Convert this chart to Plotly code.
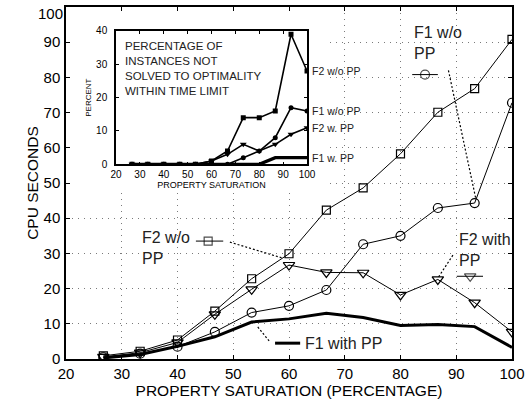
import plotly.graph_objects as go

# ---- data -------------------------------------------------------------
saturation = [26.7, 33.3, 40.0, 46.7, 53.3, 60.0, 66.7, 73.3, 80.0, 86.7, 93.3, 100.0]

# mean CPU seconds per formulation
cpu_f2_wo_pp = [0.9, 2.2, 5.4, 13.6, 22.8, 29.9, 42.3, 48.6, 58.3, 70.1, 76.8, 90.8]
cpu_f1_wo_pp = [0.5, 1.5, 3.5, 7.7, 13.2, 15.1, 19.6, 32.6, 35.0, 42.9, 44.3, 72.8]
cpu_f2_w_pp = [0.6, 1.8, 4.7, 12.7, 19.8, 26.7, 24.6, 24.5, 18.2, 22.6, 16.0, 7.7]
cpu_f1_w_pp = [0.3, 1.3, 3.6, 6.3, 10.5, 11.4, 13.0, 11.8, 9.5, 9.8, 9.2, 3.3]

# percentage of instances not solved to optimality within the time limit
pct_f2_wo_pp = [0, 0, 0, 0, 0, 1, 4, 14, 14, 16, 39, 28]
pct_f1_wo_pp = [0, 0, 0, 0, 0, 0, 0, 2, 4, 8, 17, 16]
pct_f2_w_pp = [0, 0, 0, 0, 0, 1, 3, 6, 4, 6, 9, 11]
pct_f1_w_pp = [0, 0, 0, 0, 0, 0, 0, 0, 0, 2, 2, 2]

main_ticks = list(range(20, 101, 10))
cpu_ticks = list(range(0, 101, 10))
inset_x_ticks = list(range(20, 101, 10))
inset_y_ticks = list(range(0, 41, 10))

# callout labels: text anchor, key sample (x0, xm, x1, y) and leader line
callouts = [
    dict(text="F1 w/o<br>PP", tx=82.1, ty=89.8, key=(82.1, 84.4, 86.7, 80.8),
         symbol="circle-open", size=9, lead=(88.6, 82.0, 93.5, 45.6)),
    dict(text="F2 w/o<br>PP", tx=33.3, ty=31.6, key=(43.3, 45.5, 48.2, 33.5),
         symbol="square-open", size=8, lead=(49.4, 33.2, 59.0, 28.6)),
    dict(text="F2 with<br>PP", tx=90.1, ty=30.9, key=(90.1, 92.5, 94.8, 23.5),
         symbol="triangle-down-open", size=10, lead=(89.4, 29.5, 86.7, 23.0)),
]
f1_pp_label = dict(text="F1 with PP", tx=62.5, ty=4.5, key=(57.5, 62.0, 4.5),
                   lead=(54.4, 9.1, 56.6, 4.8))

# region of the main axes covered by the inset panel (x0, x1, y0, y1)
inset_backing = (20, 66.6, 48.0, 100)

FONT = "Liberation Sans, Arial, Helvetica, sans-serif"
INK = "black"

fig = go.Figure()

# ---- main chart -------------------------------------------------------
fig.add_trace(go.Scatter(x=saturation, y=cpu_f2_wo_pp, mode="lines+markers",
                         line=dict(color=INK, width=1),
                         marker=dict(symbol="square-open", size=8, color=INK,
                                     line=dict(width=1.2))))
fig.add_trace(go.Scatter(x=saturation, y=cpu_f1_wo_pp, mode="lines+markers",
                         line=dict(color=INK, width=1),
                         marker=dict(symbol="circle-open", size=9, color=INK,
                                     line=dict(width=1.2))))
fig.add_trace(go.Scatter(x=saturation, y=cpu_f2_w_pp, mode="lines+markers",
                         line=dict(color=INK, width=1),
                         marker=dict(symbol="triangle-down-open", size=10, color=INK,
                                     line=dict(width=1.2))))
fig.add_trace(go.Scatter(x=saturation, y=cpu_f1_w_pp, mode="lines",
                         line=dict(color=INK, width=3)))

# key samples next to the callout texts
for c in callouts:
    x0, xm, x1, y = c["key"]
    fig.add_trace(go.Scatter(x=[x0, xm, x1], y=[y, y, y], mode="lines+markers",
                             line=dict(color=INK, width=1),
                             marker=dict(symbol=c["symbol"], size=[0, c["size"], 0],
                                         color=INK, line=dict(width=1.2))))
    fig.add_annotation(x=c["tx"], y=c["ty"], xref="x", yref="y", text=c["text"],
                       showarrow=False, xanchor="left", yanchor="middle", align="left",
                       font=dict(family=FONT, size=16, color="#222"))
    lx0, ly0, lx1, ly1 = c["lead"]
    fig.add_shape(type="line", xref="x", yref="y", x0=lx0, y0=ly0, x1=lx1, y1=ly1,
                  line=dict(color=INK, width=1.2, dash="2px,2px"))

kx0, kx1, ky = f1_pp_label["key"]
fig.add_trace(go.Scatter(x=[kx0, kx1], y=[ky, ky], mode="lines",
                         line=dict(color=INK, width=3)))
fig.add_annotation(x=f1_pp_label["tx"], y=f1_pp_label["ty"], xref="x", yref="y",
                   text=f1_pp_label["text"], showarrow=False, xanchor="left",
                   yanchor="middle", font=dict(family=FONT, size=16, color="#222"))
lx0, ly0, lx1, ly1 = f1_pp_label["lead"]
fig.add_shape(type="line", xref="x", yref="y", x0=lx0, y0=ly0, x1=lx1, y1=ly1,
              line=dict(color=INK, width=1.2, dash="2px,2px"))

# white backing for the inset so the main grid does not show through
bx0, bx1, by0, by1 = inset_backing
fig.add_shape(type="rect", xref="x", yref="y", x0=bx0, x1=bx1, y0=by0, y1=by1,
              fillcolor="white", line=dict(width=0), layer="between")

# the top y label sits a little below its tick so it stays inside the page
cpu_ticktext = [str(v) if v != cpu_ticks[-1] else "" for v in cpu_ticks]
fig.add_annotation(x=0, y=cpu_ticks[-1], xref="paper", yref="y", text=str(cpu_ticks[-1]),
                   showarrow=False, xanchor="right", yanchor="middle", xshift=-1,
                   yshift=-6, font=dict(family=FONT, size=15, color=INK))

# ---- inset chart ------------------------------------------------------
inset_series = [
    (pct_f2_wo_pp, "square", 5),
    (pct_f1_wo_pp, "circle", 5),
    (pct_f2_w_pp, "triangle-down", 6),
]
for vals, sym, sz in inset_series:
    fig.add_trace(go.Scatter(x=saturation, y=vals, xaxis="x2", yaxis="y2",
                             mode="lines+markers", line=dict(color=INK, width=1.6),
                             marker=dict(symbol=sym, size=sz, color=INK)))
fig.add_trace(go.Scatter(x=saturation, y=pct_f1_w_pp, xaxis="x2", yaxis="y2",
                         mode="lines", line=dict(color=INK, width=3.2)))

inset_labels = [
    (pct_f2_wo_pp[-1], "F2 w/o PP"),
    (pct_f1_wo_pp[-1], "F1 w/o PP"),
    (pct_f2_w_pp[-1], "F2 w. PP"),
    (pct_f1_w_pp[-1], "F1 w. PP"),
]
for val, txt in inset_labels:
    fig.add_annotation(x=saturation[-1], y=val, xref="x2", yref="y2", text=txt,
                       showarrow=False, xanchor="left", yanchor="middle", xshift=3,
                       font=dict(family=FONT, size=10.5, color="#222"))

fig.add_annotation(x=22.8, y=28.8, xref="x2", yref="y2",
                   text="PERCENTAGE OF<br>INSTANCES NOT<br>SOLVED TO OPTIMALITY<br>WITHIN TIME LIMIT",
                   showarrow=False, xanchor="left", yanchor="middle", align="left",
                   font=dict(family=FONT, size=11.5, color="#222"))

axis_common = dict(showline=True, linecolor=INK, mirror="ticks", ticks="inside",
                   tickcolor=INK, zeroline=False, ticklabeloverflow="allow",
                   automargin=False)

fig.update_layout(
    width=526, height=402,
    margin=dict(l=66, r=14, t=7, b=43, pad=0, autoexpand=False),
    paper_bgcolor="white", plot_bgcolor="white",
    showlegend=False,
    font=dict(family=FONT, color=INK),
    xaxis=dict(**axis_common, range=[20, 100], tickvals=main_ticks, ticklen=4,
               linewidth=1.5, tickwidth=1,
               showgrid=True, gridcolor="#7a7a7a", gridwidth=1, griddash="1px,5px",
               tickfont=dict(size=15),
               title=dict(text="PROPERTY SATURATION (PERCENTAGE)", font=dict(size=15.5),
                          standoff=2)),
    yaxis=dict(**axis_common, range=[0, 100], tickvals=cpu_ticks, ticktext=cpu_ticktext,
               ticklen=4, linewidth=1.5, tickwidth=1,
               showgrid=True, gridcolor="#7a7a7a", gridwidth=1, griddash="1px,5px",
               tickfont=dict(size=15), ticklabelstandoff=1,
               title=dict(text="CPU SECONDS", font=dict(size=15.5), standoff=1)),
    xaxis2=dict(**axis_common, domain=[0.1121, 0.5404], anchor="y2", range=[20, 100],
                tickvals=inset_x_ticks, ticklen=3, linewidth=1.5, tickwidth=1,
                showgrid=False, tickfont=dict(size=10),
                title=dict(text="PROPERTY SATURATION", font=dict(size=9), standoff=2)),
    yaxis2=dict(**axis_common, domain=[0.553, 0.932], anchor="x2", range=[0, 40],
                tickvals=inset_y_ticks, ticklen=3, linewidth=1.5, tickwidth=1,
                showgrid=False, tickfont=dict(size=10), ticklabelstandoff=5,
                title=dict(text="PERCENT", font=dict(size=8), standoff=3)),
)

fig.write_html("out.html")
